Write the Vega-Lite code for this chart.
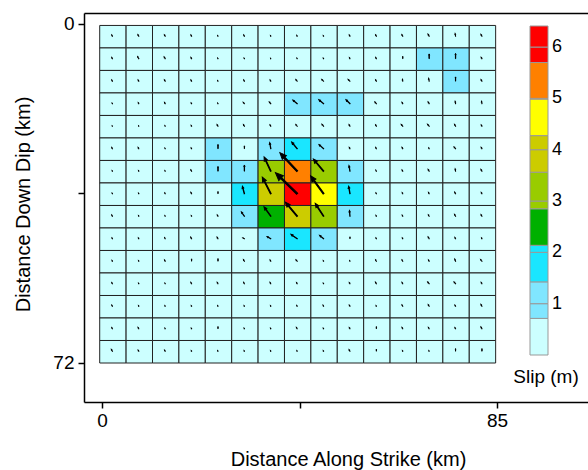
{
  "$schema": "https://vega.github.io/schema/vega-lite/v6.json",
  "width": 504,
  "height": 389,
  "autosize": {"type": "none"},
  "padding": {"left": 84, "top": 13, "right": 0, "bottom": 68},
  "background": "white",
  "config": {"view": {"stroke": null}, "font": "Liberation Sans"},
  "data": {"values": [
    {"x0":-0.6,"x1":5.08,"y0":0.2,"y1":4.98,"slip":0.3,"rake":-30},
    {"x0":5.08,"x1":10.76,"y0":0.2,"y1":4.98,"slip":0.4,"rake":-30},
    {"x0":10.76,"x1":16.44,"y0":0.2,"y1":4.98,"slip":0.35,"rake":-30},
    {"x0":16.44,"x1":22.12,"y0":0.2,"y1":4.98,"slip":0.3,"rake":-30},
    {"x0":22.12,"x1":27.8,"y0":0.2,"y1":4.98,"slip":0.15,"rake":-30},
    {"x0":27.8,"x1":33.48,"y0":0.2,"y1":4.98,"slip":0.3,"rake":-30},
    {"x0":33.48,"x1":39.16,"y0":0.2,"y1":4.98,"slip":0.15,"rake":-30},
    {"x0":39.16,"x1":44.84,"y0":0.2,"y1":4.98,"slip":0.2,"rake":-30},
    {"x0":44.84,"x1":50.52,"y0":0.2,"y1":4.98,"slip":0.15,"rake":-30},
    {"x0":50.52,"x1":56.2,"y0":0.2,"y1":4.98,"slip":0.3,"rake":-30},
    {"x0":56.2,"x1":61.88,"y0":0.2,"y1":4.98,"slip":0.35,"rake":-30},
    {"x0":61.88,"x1":67.56,"y0":0.2,"y1":4.98,"slip":0.4,"rake":-30},
    {"x0":67.56,"x1":73.24,"y0":0.2,"y1":4.98,"slip":0.5,"rake":-30},
    {"x0":73.24,"x1":78.92,"y0":0.2,"y1":4.98,"slip":0.55,"rake":-10},
    {"x0":78.92,"x1":84.6,"y0":0.2,"y1":4.98,"slip":0.45,"rake":-30},

    {"x0":-0.6,"x1":5.08,"y0":4.98,"y1":9.76,"slip":0.3,"rake":-30},
    {"x0":5.08,"x1":10.76,"y0":4.98,"y1":9.76,"slip":0.5,"rake":-30},
    {"x0":10.76,"x1":16.44,"y0":4.98,"y1":9.76,"slip":0.45,"rake":-30},
    {"x0":16.44,"x1":22.12,"y0":4.98,"y1":9.76,"slip":0.3,"rake":-30},
    {"x0":22.12,"x1":27.8,"y0":4.98,"y1":9.76,"slip":0.15,"rake":-30},
    {"x0":27.8,"x1":33.48,"y0":4.98,"y1":9.76,"slip":0.15,"rake":-30},
    {"x0":33.48,"x1":39.16,"y0":4.98,"y1":9.76,"slip":0.1,"rake":-30},
    {"x0":39.16,"x1":44.84,"y0":4.98,"y1":9.76,"slip":0.15,"rake":-30},
    {"x0":44.84,"x1":50.52,"y0":4.98,"y1":9.76,"slip":0.15,"rake":-30},
    {"x0":50.52,"x1":56.2,"y0":4.98,"y1":9.76,"slip":0.25,"rake":-30},
    {"x0":56.2,"x1":61.88,"y0":4.98,"y1":9.76,"slip":0.3,"rake":-30},
    {"x0":61.88,"x1":67.56,"y0":4.98,"y1":9.76,"slip":0.5,"rake":0},
    {"x0":67.56,"x1":73.24,"y0":4.98,"y1":9.76,"slip":1.0,"rake":0},
    {"x0":73.24,"x1":78.92,"y0":4.98,"y1":9.76,"slip":1.1,"rake":0},
    {"x0":78.92,"x1":84.6,"y0":4.98,"y1":9.76,"slip":0.35,"rake":-30},

    {"x0":-0.6,"x1":5.08,"y0":9.76,"y1":14.54,"slip":0.3,"rake":-30},
    {"x0":5.08,"x1":10.76,"y0":9.76,"y1":14.54,"slip":0.3,"rake":-30},
    {"x0":10.76,"x1":16.44,"y0":9.76,"y1":14.54,"slip":0.35,"rake":-30},
    {"x0":16.44,"x1":22.12,"y0":9.76,"y1":14.54,"slip":0.3,"rake":-30},
    {"x0":22.12,"x1":27.8,"y0":9.76,"y1":14.54,"slip":0.15,"rake":-30},
    {"x0":27.8,"x1":33.48,"y0":9.76,"y1":14.54,"slip":0.3,"rake":-30},
    {"x0":33.48,"x1":39.16,"y0":9.76,"y1":14.54,"slip":0.3,"rake":-30},
    {"x0":39.16,"x1":44.84,"y0":9.76,"y1":14.54,"slip":0.45,"rake":-40},
    {"x0":44.84,"x1":50.52,"y0":9.76,"y1":14.54,"slip":0.55,"rake":-45},
    {"x0":50.52,"x1":56.2,"y0":9.76,"y1":14.54,"slip":0.55,"rake":-45},
    {"x0":56.2,"x1":61.88,"y0":9.76,"y1":14.54,"slip":0.35,"rake":-30},
    {"x0":61.88,"x1":67.56,"y0":9.76,"y1":14.54,"slip":0.4,"rake":-10},
    {"x0":67.56,"x1":73.24,"y0":9.76,"y1":14.54,"slip":0.6,"rake":-10},
    {"x0":73.24,"x1":78.92,"y0":9.76,"y1":14.54,"slip":0.9,"rake":0},
    {"x0":78.92,"x1":84.6,"y0":9.76,"y1":14.54,"slip":0.4,"rake":-30},

    {"x0":-0.6,"x1":5.08,"y0":14.54,"y1":19.32,"slip":0.15,"rake":-30},
    {"x0":5.08,"x1":10.76,"y0":14.54,"y1":19.32,"slip":0.25,"rake":-30},
    {"x0":10.76,"x1":16.44,"y0":14.54,"y1":19.32,"slip":0.3,"rake":-30},
    {"x0":16.44,"x1":22.12,"y0":14.54,"y1":19.32,"slip":0.2,"rake":-30},
    {"x0":22.12,"x1":27.8,"y0":14.54,"y1":19.32,"slip":0.15,"rake":-30},
    {"x0":27.8,"x1":33.48,"y0":14.54,"y1":19.32,"slip":0.4,"rake":-40},
    {"x0":33.48,"x1":39.16,"y0":14.54,"y1":19.32,"slip":0.5,"rake":-40},
    {"x0":39.16,"x1":44.84,"y0":14.54,"y1":19.32,"slip":1.2,"rake":-50},
    {"x0":44.84,"x1":50.52,"y0":14.54,"y1":19.32,"slip":1.3,"rake":-50},
    {"x0":50.52,"x1":56.2,"y0":14.54,"y1":19.32,"slip":1.2,"rake":-45},
    {"x0":56.2,"x1":61.88,"y0":14.54,"y1":19.32,"slip":0.5,"rake":-40},
    {"x0":61.88,"x1":67.56,"y0":14.54,"y1":19.32,"slip":0.35,"rake":-30},
    {"x0":67.56,"x1":73.24,"y0":14.54,"y1":19.32,"slip":0.45,"rake":-30},
    {"x0":73.24,"x1":78.92,"y0":14.54,"y1":19.32,"slip":0.5,"rake":-10},
    {"x0":78.92,"x1":84.6,"y0":14.54,"y1":19.32,"slip":0.5,"rake":-10},

    {"x0":-0.6,"x1":5.08,"y0":19.32,"y1":24.1,"slip":0.1,"rake":-30},
    {"x0":5.08,"x1":10.76,"y0":19.32,"y1":24.1,"slip":0.1,"rake":-30},
    {"x0":10.76,"x1":16.44,"y0":19.32,"y1":24.1,"slip":0.15,"rake":-30},
    {"x0":16.44,"x1":22.12,"y0":19.32,"y1":24.1,"slip":0.2,"rake":-30},
    {"x0":22.12,"x1":27.8,"y0":19.32,"y1":24.1,"slip":0.4,"rake":-30},
    {"x0":27.8,"x1":33.48,"y0":19.32,"y1":24.1,"slip":0.4,"rake":-30},
    {"x0":33.48,"x1":39.16,"y0":19.32,"y1":24.1,"slip":0.35,"rake":-30},
    {"x0":39.16,"x1":44.84,"y0":19.32,"y1":24.1,"slip":0.45,"rake":-40},
    {"x0":44.84,"x1":50.52,"y0":19.32,"y1":24.1,"slip":0.55,"rake":-40},
    {"x0":50.52,"x1":56.2,"y0":19.32,"y1":24.1,"slip":0.4,"rake":-30},
    {"x0":56.2,"x1":61.88,"y0":19.32,"y1":24.1,"slip":0.35,"rake":-30},
    {"x0":61.88,"x1":67.56,"y0":19.32,"y1":24.1,"slip":0.5,"rake":-40},
    {"x0":67.56,"x1":73.24,"y0":19.32,"y1":24.1,"slip":0.55,"rake":-40},
    {"x0":73.24,"x1":78.92,"y0":19.32,"y1":24.1,"slip":0.45,"rake":-30},
    {"x0":78.92,"x1":84.6,"y0":19.32,"y1":24.1,"slip":0.3,"rake":-30},

    {"x0":-0.6,"x1":5.08,"y0":24.1,"y1":28.88,"slip":0.3,"rake":-30},
    {"x0":5.08,"x1":10.76,"y0":24.1,"y1":28.88,"slip":0.3,"rake":-30},
    {"x0":10.76,"x1":16.44,"y0":24.1,"y1":28.88,"slip":0.15,"rake":-30},
    {"x0":16.44,"x1":22.12,"y0":24.1,"y1":28.88,"slip":0.2,"rake":-30},
    {"x0":22.12,"x1":27.8,"y0":24.1,"y1":28.88,"slip":0.9,"rake":0},
    {"x0":27.8,"x1":33.48,"y0":24.1,"y1":28.88,"slip":0.6,"rake":0},
    {"x0":33.48,"x1":39.16,"y0":24.1,"y1":28.88,"slip":1.3,"rake":-10},
    {"x0":39.16,"x1":44.84,"y0":24.1,"y1":28.88,"slip":1.8,"rake":-40},
    {"x0":44.84,"x1":50.52,"y0":24.1,"y1":28.88,"slip":1.3,"rake":-48},
    {"x0":50.52,"x1":56.2,"y0":24.1,"y1":28.88,"slip":0.3,"rake":-30},
    {"x0":56.2,"x1":61.88,"y0":24.1,"y1":28.88,"slip":0.3,"rake":-30},
    {"x0":61.88,"x1":67.56,"y0":24.1,"y1":28.88,"slip":0.35,"rake":-30},
    {"x0":67.56,"x1":73.24,"y0":24.1,"y1":28.88,"slip":0.2,"rake":-30},
    {"x0":73.24,"x1":78.92,"y0":24.1,"y1":28.88,"slip":0.5,"rake":-40},
    {"x0":78.92,"x1":84.6,"y0":24.1,"y1":28.88,"slip":0.35,"rake":-30},

    {"x0":-0.6,"x1":5.08,"y0":28.88,"y1":33.66,"slip":0.15,"rake":-30},
    {"x0":5.08,"x1":10.76,"y0":28.88,"y1":33.66,"slip":0.15,"rake":-30},
    {"x0":10.76,"x1":16.44,"y0":28.88,"y1":33.66,"slip":0.15,"rake":-30},
    {"x0":16.44,"x1":22.12,"y0":28.88,"y1":33.66,"slip":0.35,"rake":-30},
    {"x0":22.12,"x1":27.8,"y0":28.88,"y1":33.66,"slip":1.0,"rake":0},
    {"x0":27.8,"x1":33.48,"y0":28.88,"y1":33.66,"slip":1.3,"rake":0},
    {"x0":33.48,"x1":39.16,"y0":28.88,"y1":33.66,"slip":3.3,"rake":-25},
    {"x0":39.16,"x1":44.84,"y0":28.88,"y1":33.66,"slip":5.3,"rake":-43},
    {"x0":44.84,"x1":50.52,"y0":28.88,"y1":33.66,"slip":3.3,"rake":-40},
    {"x0":50.52,"x1":56.2,"y0":28.88,"y1":33.66,"slip":1.2,"rake":-10},
    {"x0":56.2,"x1":61.88,"y0":28.88,"y1":33.66,"slip":0.25,"rake":-30},
    {"x0":61.88,"x1":67.56,"y0":28.88,"y1":33.66,"slip":0.3,"rake":-30},
    {"x0":67.56,"x1":73.24,"y0":28.88,"y1":33.66,"slip":0.45,"rake":-30},
    {"x0":73.24,"x1":78.92,"y0":28.88,"y1":33.66,"slip":0.5,"rake":-10},
    {"x0":78.92,"x1":84.6,"y0":28.88,"y1":33.66,"slip":0.45,"rake":-30},

    {"x0":-0.6,"x1":5.08,"y0":33.66,"y1":38.44,"slip":0.15,"rake":-30},
    {"x0":5.08,"x1":10.76,"y0":33.66,"y1":38.44,"slip":0.15,"rake":-30},
    {"x0":10.76,"x1":16.44,"y0":33.66,"y1":38.44,"slip":0.2,"rake":-30},
    {"x0":16.44,"x1":22.12,"y0":33.66,"y1":38.44,"slip":0.35,"rake":-30},
    {"x0":22.12,"x1":27.8,"y0":33.66,"y1":38.44,"slip":0.45,"rake":0},
    {"x0":27.8,"x1":33.48,"y0":33.66,"y1":38.44,"slip":1.6,"rake":-15},
    {"x0":33.48,"x1":39.16,"y0":33.66,"y1":38.44,"slip":3.9,"rake":-27},
    {"x0":39.16,"x1":44.84,"y0":33.66,"y1":38.44,"slip":6.3,"rake":-46},
    {"x0":44.84,"x1":50.52,"y0":33.66,"y1":38.44,"slip":4.6,"rake":-36},
    {"x0":50.52,"x1":56.2,"y0":33.66,"y1":38.44,"slip":1.6,"rake":-10},
    {"x0":56.2,"x1":61.88,"y0":33.66,"y1":38.44,"slip":0.2,"rake":-30},
    {"x0":61.88,"x1":67.56,"y0":33.66,"y1":38.44,"slip":0.25,"rake":-30},
    {"x0":67.56,"x1":73.24,"y0":33.66,"y1":38.44,"slip":0.3,"rake":-30},
    {"x0":73.24,"x1":78.92,"y0":33.66,"y1":38.44,"slip":0.4,"rake":-30},
    {"x0":78.92,"x1":84.6,"y0":33.66,"y1":38.44,"slip":0.3,"rake":-30},

    {"x0":-0.6,"x1":5.08,"y0":38.44,"y1":43.22,"slip":0.3,"rake":-30},
    {"x0":5.08,"x1":10.76,"y0":38.44,"y1":43.22,"slip":0.15,"rake":-30},
    {"x0":10.76,"x1":16.44,"y0":38.44,"y1":43.22,"slip":0.15,"rake":-30},
    {"x0":16.44,"x1":22.12,"y0":38.44,"y1":43.22,"slip":0.15,"rake":-30},
    {"x0":22.12,"x1":27.8,"y0":38.44,"y1":43.22,"slip":0.3,"rake":-30},
    {"x0":27.8,"x1":33.48,"y0":38.44,"y1":43.22,"slip":1.1,"rake":-35},
    {"x0":33.48,"x1":39.16,"y0":38.44,"y1":43.22,"slip":2.4,"rake":-36},
    {"x0":39.16,"x1":44.84,"y0":38.44,"y1":43.22,"slip":3.8,"rake":-40},
    {"x0":44.84,"x1":50.52,"y0":38.44,"y1":43.22,"slip":3.2,"rake":-33},
    {"x0":50.52,"x1":56.2,"y0":38.44,"y1":43.22,"slip":1.2,"rake":-5},
    {"x0":56.2,"x1":61.88,"y0":38.44,"y1":43.22,"slip":0.2,"rake":-30},
    {"x0":61.88,"x1":67.56,"y0":38.44,"y1":43.22,"slip":0.25,"rake":-30},
    {"x0":67.56,"x1":73.24,"y0":38.44,"y1":43.22,"slip":0.35,"rake":-30},
    {"x0":73.24,"x1":78.92,"y0":38.44,"y1":43.22,"slip":0.45,"rake":-30},
    {"x0":78.92,"x1":84.6,"y0":38.44,"y1":43.22,"slip":0.4,"rake":-30},

    {"x0":-0.6,"x1":5.08,"y0":43.22,"y1":48,"slip":0.2,"rake":-30},
    {"x0":5.08,"x1":10.76,"y0":43.22,"y1":48,"slip":0.2,"rake":-30},
    {"x0":10.76,"x1":16.44,"y0":43.22,"y1":48,"slip":0.25,"rake":-30},
    {"x0":16.44,"x1":22.12,"y0":43.22,"y1":48,"slip":0.4,"rake":-30},
    {"x0":22.12,"x1":27.8,"y0":43.22,"y1":48,"slip":0.4,"rake":-30},
    {"x0":27.8,"x1":33.48,"y0":43.22,"y1":48,"slip":0.4,"rake":-60},
    {"x0":33.48,"x1":39.16,"y0":43.22,"y1":48,"slip":0.9,"rake":-60},
    {"x0":39.16,"x1":44.84,"y0":43.22,"y1":48,"slip":1.6,"rake":-55},
    {"x0":44.84,"x1":50.52,"y0":43.22,"y1":48,"slip":1.1,"rake":-50},
    {"x0":50.52,"x1":56.2,"y0":43.22,"y1":48,"slip":0.4,"rake":0},
    {"x0":56.2,"x1":61.88,"y0":43.22,"y1":48,"slip":0.2,"rake":-30},
    {"x0":61.88,"x1":67.56,"y0":43.22,"y1":48,"slip":0.2,"rake":-30},
    {"x0":67.56,"x1":73.24,"y0":43.22,"y1":48,"slip":0.45,"rake":-30},
    {"x0":73.24,"x1":78.92,"y0":43.22,"y1":48,"slip":0.3,"rake":-30},
    {"x0":78.92,"x1":84.6,"y0":43.22,"y1":48,"slip":0.2,"rake":-30},

    {"x0":-0.6,"x1":5.08,"y0":48,"y1":52.78,"slip":0.2,"rake":-30},
    {"x0":5.08,"x1":10.76,"y0":48,"y1":52.78,"slip":0.15,"rake":-30},
    {"x0":10.76,"x1":16.44,"y0":48,"y1":52.78,"slip":0.3,"rake":-30},
    {"x0":16.44,"x1":22.12,"y0":48,"y1":52.78,"slip":0.5,"rake":0},
    {"x0":22.12,"x1":27.8,"y0":48,"y1":52.78,"slip":0.55,"rake":0},
    {"x0":27.8,"x1":33.48,"y0":48,"y1":52.78,"slip":0.4,"rake":-30},
    {"x0":33.48,"x1":39.16,"y0":48,"y1":52.78,"slip":0.3,"rake":-30},
    {"x0":39.16,"x1":44.84,"y0":48,"y1":52.78,"slip":0.4,"rake":-40},
    {"x0":44.84,"x1":50.52,"y0":48,"y1":52.78,"slip":0.15,"rake":-30},
    {"x0":50.52,"x1":56.2,"y0":48,"y1":52.78,"slip":0.15,"rake":-30},
    {"x0":56.2,"x1":61.88,"y0":48,"y1":52.78,"slip":0.35,"rake":-30},
    {"x0":61.88,"x1":67.56,"y0":48,"y1":52.78,"slip":0.35,"rake":-30},
    {"x0":67.56,"x1":73.24,"y0":48,"y1":52.78,"slip":0.3,"rake":-30},
    {"x0":73.24,"x1":78.92,"y0":48,"y1":52.78,"slip":0.5,"rake":-20},
    {"x0":78.92,"x1":84.6,"y0":48,"y1":52.78,"slip":0.45,"rake":-40},

    {"x0":-0.6,"x1":5.08,"y0":52.78,"y1":57.56,"slip":0.3,"rake":-30},
    {"x0":5.08,"x1":10.76,"y0":52.78,"y1":57.56,"slip":0.15,"rake":-30},
    {"x0":10.76,"x1":16.44,"y0":52.78,"y1":57.56,"slip":0.15,"rake":-30},
    {"x0":16.44,"x1":22.12,"y0":52.78,"y1":57.56,"slip":0.35,"rake":-30},
    {"x0":22.12,"x1":27.8,"y0":52.78,"y1":57.56,"slip":0.35,"rake":-30},
    {"x0":27.8,"x1":33.48,"y0":52.78,"y1":57.56,"slip":0.35,"rake":-30},
    {"x0":33.48,"x1":39.16,"y0":52.78,"y1":57.56,"slip":0.35,"rake":-30},
    {"x0":39.16,"x1":44.84,"y0":52.78,"y1":57.56,"slip":0.3,"rake":-30},
    {"x0":44.84,"x1":50.52,"y0":52.78,"y1":57.56,"slip":0.15,"rake":-30},
    {"x0":50.52,"x1":56.2,"y0":52.78,"y1":57.56,"slip":0.3,"rake":-30},
    {"x0":56.2,"x1":61.88,"y0":52.78,"y1":57.56,"slip":0.4,"rake":-30},
    {"x0":61.88,"x1":67.56,"y0":52.78,"y1":57.56,"slip":0.35,"rake":-30},
    {"x0":67.56,"x1":73.24,"y0":52.78,"y1":57.56,"slip":0.5,"rake":-40},
    {"x0":73.24,"x1":78.92,"y0":52.78,"y1":57.56,"slip":0.5,"rake":-40},
    {"x0":78.92,"x1":84.6,"y0":52.78,"y1":57.56,"slip":0.35,"rake":-30},

    {"x0":-0.6,"x1":5.08,"y0":57.56,"y1":62.34,"slip":0.3,"rake":-30},
    {"x0":5.08,"x1":10.76,"y0":57.56,"y1":62.34,"slip":0.15,"rake":-30},
    {"x0":10.76,"x1":16.44,"y0":57.56,"y1":62.34,"slip":0.15,"rake":-30},
    {"x0":16.44,"x1":22.12,"y0":57.56,"y1":62.34,"slip":0.15,"rake":-30},
    {"x0":22.12,"x1":27.8,"y0":57.56,"y1":62.34,"slip":0.15,"rake":-30},
    {"x0":27.8,"x1":33.48,"y0":57.56,"y1":62.34,"slip":0.15,"rake":-30},
    {"x0":33.48,"x1":39.16,"y0":57.56,"y1":62.34,"slip":0.15,"rake":-30},
    {"x0":39.16,"x1":44.84,"y0":57.56,"y1":62.34,"slip":0.2,"rake":-30},
    {"x0":44.84,"x1":50.52,"y0":57.56,"y1":62.34,"slip":0.25,"rake":-30},
    {"x0":50.52,"x1":56.2,"y0":57.56,"y1":62.34,"slip":0.3,"rake":-30},
    {"x0":56.2,"x1":61.88,"y0":57.56,"y1":62.34,"slip":0.15,"rake":-30},
    {"x0":61.88,"x1":67.56,"y0":57.56,"y1":62.34,"slip":0.35,"rake":-30},
    {"x0":67.56,"x1":73.24,"y0":57.56,"y1":62.34,"slip":0.4,"rake":-30},
    {"x0":73.24,"x1":78.92,"y0":57.56,"y1":62.34,"slip":0.3,"rake":-30},
    {"x0":78.92,"x1":84.6,"y0":57.56,"y1":62.34,"slip":0.45,"rake":-30},

    {"x0":-0.6,"x1":5.08,"y0":62.34,"y1":67.12,"slip":0.3,"rake":-30},
    {"x0":5.08,"x1":10.76,"y0":62.34,"y1":67.12,"slip":0.35,"rake":-30},
    {"x0":10.76,"x1":16.44,"y0":62.34,"y1":67.12,"slip":0.15,"rake":-30},
    {"x0":16.44,"x1":22.12,"y0":62.34,"y1":67.12,"slip":0.15,"rake":-30},
    {"x0":22.12,"x1":27.8,"y0":62.34,"y1":67.12,"slip":0.45,"rake":0},
    {"x0":27.8,"x1":33.48,"y0":62.34,"y1":67.12,"slip":0.15,"rake":-30},
    {"x0":33.48,"x1":39.16,"y0":62.34,"y1":67.12,"slip":0.15,"rake":-30},
    {"x0":39.16,"x1":44.84,"y0":62.34,"y1":67.12,"slip":0.35,"rake":-30},
    {"x0":44.84,"x1":50.52,"y0":62.34,"y1":67.12,"slip":0.15,"rake":-30},
    {"x0":50.52,"x1":56.2,"y0":62.34,"y1":67.12,"slip":0.3,"rake":-30},
    {"x0":56.2,"x1":61.88,"y0":62.34,"y1":67.12,"slip":0.45,"rake":0},
    {"x0":61.88,"x1":67.56,"y0":62.34,"y1":67.12,"slip":0.35,"rake":-30},
    {"x0":67.56,"x1":73.24,"y0":62.34,"y1":67.12,"slip":0.35,"rake":-30},
    {"x0":73.24,"x1":78.92,"y0":62.34,"y1":67.12,"slip":0.3,"rake":-30},
    {"x0":78.92,"x1":84.6,"y0":62.34,"y1":67.12,"slip":0.45,"rake":-30},

    {"x0":-0.6,"x1":5.08,"y0":67.12,"y1":71.9,"slip":0.45,"rake":-30},
    {"x0":5.08,"x1":10.76,"y0":67.12,"y1":71.9,"slip":0.3,"rake":-30},
    {"x0":10.76,"x1":16.44,"y0":67.12,"y1":71.9,"slip":0.3,"rake":-30},
    {"x0":16.44,"x1":22.12,"y0":67.12,"y1":71.9,"slip":0.15,"rake":-30},
    {"x0":22.12,"x1":27.8,"y0":67.12,"y1":71.9,"slip":0.15,"rake":-30},
    {"x0":27.8,"x1":33.48,"y0":67.12,"y1":71.9,"slip":0.15,"rake":-30},
    {"x0":33.48,"x1":39.16,"y0":67.12,"y1":71.9,"slip":0.15,"rake":-30},
    {"x0":39.16,"x1":44.84,"y0":67.12,"y1":71.9,"slip":0.15,"rake":-30},
    {"x0":44.84,"x1":50.52,"y0":67.12,"y1":71.9,"slip":0.15,"rake":-30},
    {"x0":50.52,"x1":56.2,"y0":67.12,"y1":71.9,"slip":0.4,"rake":-30},
    {"x0":56.2,"x1":61.88,"y0":67.12,"y1":71.9,"slip":0.45,"rake":0},
    {"x0":61.88,"x1":67.56,"y0":67.12,"y1":71.9,"slip":0.15,"rake":-30},
    {"x0":67.56,"x1":73.24,"y0":67.12,"y1":71.9,"slip":0.15,"rake":-30},
    {"x0":73.24,"x1":78.92,"y0":67.12,"y1":71.9,"slip":0.55,"rake":0},
    {"x0":78.92,"x1":84.6,"y0":67.12,"y1":71.9,"slip":0.55,"rake":0}
  ]},
  "resolve": {"axis": {"x": "independent"}},
  "layer": [
    {
      "mark": {"type": "rect", "stroke": "#222222", "strokeWidth": 1},
      "encoding": {
        "x": {
          "field": "x0", "type": "quantitative", "bin": {"binned": true},
          "scale": {"domain": [-3.873, 104.58], "nice": false, "zero": false},
          "axis": {
            "orient": "bottom", "values": [0, 42.5, 85], "grid": false,
            "labelExpr": "datum.value == 42.5 ? '' : format(datum.value, 'd')",
            "labelFlush": false, "labelFont": "Liberation Sans", "labelFontSize": 19, "labelColor": "#000",
            "labelPadding": 3, "tickSize": 6, "tickWidth": 1.5, "tickColor": "#000",
            "domainColor": "#000", "domainWidth": 1.5,
            "title": "Distance Along Strike (km)", "titleFont": "Liberation Sans", "titleFontSize": 20,
            "titleFontWeight": "normal", "titleColor": "#000", "titleX": 264, "titleY": 63,
            "titleAlign": "center", "titleBaseline": "alphabetic"
          }
        },
        "x2": {"field": "x1"},
        "y": {
          "field": "y0", "type": "quantitative", "bin": {"binned": true},
          "scale": {"domain": [-2.336, 80.29], "reverse": true, "nice": false, "zero": false},
          "axis": {
            "orient": "left", "values": [0, 36, 72], "grid": false,
            "labelExpr": "datum.value == 36 ? '' : format(datum.value, 'd')",
            "labelFlush": false, "labelFont": "Liberation Sans", "labelFontSize": 19, "labelColor": "#000",
            "labelPadding": 4, "tickSize": 6, "tickWidth": 1.5, "tickColor": "#000",
            "domainColor": "#000", "domainWidth": 1.5,
            "title": "Distance Down Dip (km)", "titleFont": "Liberation Sans", "titleFontSize": 20,
            "titleFontWeight": "normal", "titleColor": "#000", "titleX": -60.5, "titleY": 191,
            "titleAngle": -90, "titleAlign": "center", "titleBaseline": "middle"
          }
        },
        "y2": {"field": "y1"},
        "color": {
          "field": "slip", "type": "quantitative",
          "scale": {"type": "quantize", "domain": [0, 6.41], "nice": false, "zero": false,
            "range": ["#ccffff", "#80e6ff", "#1ae6ff", "#00b000", "#99cc00", "#cccc00", "#ffff00", "#ff8000", "#ff0000"]},
          "legend": {
            "type": "gradient", "direction": "vertical", "orient": "none",
            "legendX": 429, "legendY": 13, "padding": 0,
            "gradientLength": 329, "gradientThickness": 18,
            "gradientStrokeColor": "#999999", "gradientStrokeWidth": 1,
            "values": [0, 0.713, 1, 1.425, 2, 2.137, 2.849, 3, 3.562, 4, 4.274, 4.986, 5, 5.698, 6],
            "labelExpr": "datum.value >= 1 && datum.value == floor(datum.value) ? format(datum.value, 'd') : ''",
            "labelOverlap": false, "labelFont": "Liberation Sans", "labelFontSize": 18, "labelColor": "#000", "labelOffset": 4,
            "title": "Slip (m)", "titleOrient": "bottom", "titleAnchor": "middle",
            "titleFont": "Liberation Sans", "titleFontSize": 19, "titleFontWeight": "normal", "titleColor": "#000",
            "titlePadding": 12
          }
        }
      }
    },
    {
      "mark": {"type": "point", "shape": "M-0.025,0 L0.025,0 L0.025,-0.74 L0.11,-0.74 L0,-1 L-0.11,-0.74 L-0.025,-0.74 Z",
        "filled": true, "fill": "#000", "stroke": "#000", "strokeWidth": 1, "opacity": 1},
      "encoding": {
        "x": {"field": "x0", "type": "quantitative", "bin": {"binned": true},
          "axis": {"orient": "top", "ticks": false, "labels": false, "title": null, "grid": false,
            "domainColor": "#000", "domainWidth": 1.5}},
        "x2": {"field": "x1"},
        "y": {"field": "y0", "type": "quantitative", "bin": {"binned": true}},
        "y2": {"field": "y1"},
        "size": {"field": "slip", "type": "quantitative",
          "scale": {"type": "pow", "exponent": 2, "domain": [0, 6.4], "range": [0, 3770]}, "legend": null},
        "angle": {"field": "rake", "type": "quantitative",
          "scale": {"domain": [-180, 180], "range": [-180, 180]}, "legend": null}
      }
    }
  ]
}
